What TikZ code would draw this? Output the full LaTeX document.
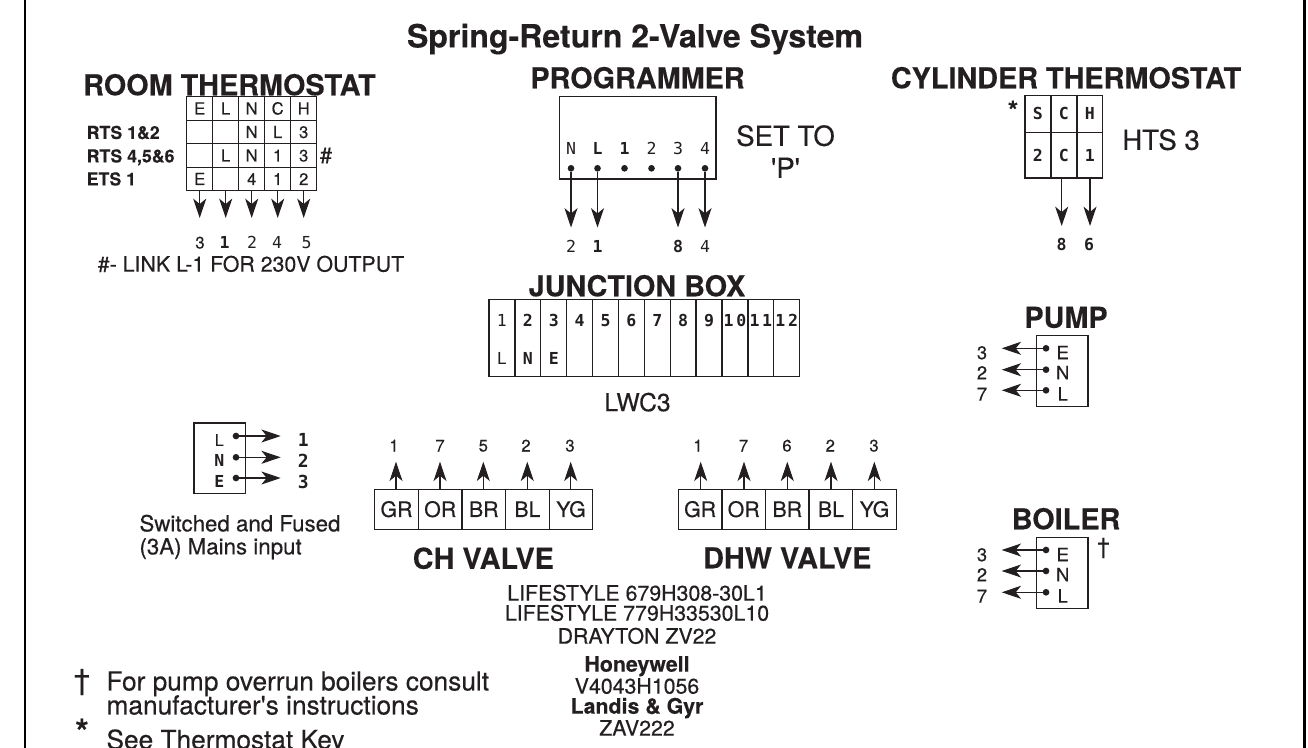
\documentclass[tikz,border=0pt]{standalone}
\usepackage{fontspec}
\newfontfamily\hv{TeX Gyre Heros}[FakeBold=0.35,BoldFeatures={FakeBold=0.2}]
\newfontfamily\mn{DejaVu Sans Mono}
\usetikzlibrary{arrows.meta}
\definecolor{ink}{HTML}{231F20}
\tikzset{
  base/.style={inner sep=0pt,outer sep=0pt,text=ink,text depth=0pt},
  ttl/.style={base,text height=17.2pt,font=\hv\bfseries\fontsize{24.05}{26}\selectfont},
  hd/.style={base,text height=15.4pt,font=\hv\bfseries\fontsize{21.6}{24}\selectfont},
  big/.style={base,text height=14.7pt,font=\hv\fontsize{20.7}{24}\selectfont},
  mid/.style={base,text height=13pt,font=\hv\fontsize{18.5}{20}\selectfont},
  sw/.style={base,text height=12.6pt,anchor=west,font=\hv\fontsize{16.7}{20}\selectfont},
  cp/.style={base,text height=11.5pt,font=\hv\fontsize{16}{18}\selectfont},
  cpb/.style={base,text height=11.5pt,font=\hv\bfseries\fontsize{16}{18}\selectfont},
  rts/.style={base,text height=9.6pt,anchor=west,font=\hv\bfseries\fontsize{13.3}{15}\selectfont},
  lab/.style={base,text height=9pt,font=\hv\fontsize{12.5}{14}\selectfont},
  labb/.style={base,text height=9.8pt,font=\hv\fontsize{13.8}{15}\selectfont},
  mono/.style={base,text height=9pt,font=\mn\fontsize{12.4}{14}\selectfont},
  monob/.style={base,text height=9pt,font=\mn\bfseries\fontsize{12.4}{14}\selectfont},
  foot/.style={base,text height=14.2pt,anchor=west,font=\hv\fontsize{19.7}{22}\selectfont},
  sym/.style={inner sep=0pt,outer sep=0pt,text=ink,anchor=base,font=\hv\bfseries\fontsize{#1}{#1}\selectfont},
  cell/.style={draw=ink,line width=1pt,inner sep=0pt,outer sep=0pt,text=ink,text height=9pt,text depth=0pt},
  tcell/.style={cell,minimum width=19.5pt,minimum height=17.6pt,font=\hv\fontsize{12.5}{14}\selectfont},
  ccell/.style={cell,minimum width=19.5pt,font=\mn\bfseries\fontsize{12.4}{14}\selectfont},
  jcell/.style={cell,minimum width=19.42pt,minimum height=58pt},
  vcell/.style={cell,minimum width=32.7pt,minimum height=30pt,text height=11.5pt,font=\hv\fontsize{16}{17}\selectfont},
  bx/.style={draw=ink,line width=1pt,inner sep=0pt,outer sep=0pt},
  dot/.style={circle,fill=ink,minimum size=5pt,inner sep=0pt,outer sep=0pt},
  wire/.style={draw=ink,line width=0.8pt,-{Stealth[length=14.5pt,width=9.75pt,inset=4pt]}},
  frame/.style={draw=black,line width=1.7pt}
}
\begin{document}
\begin{tikzpicture}[x=0.75pt,y=-0.75pt]
\clip (0,0) rectangle (1308,748);
\fill[white] (0,0) rectangle (1308,748);
% frame
\coordinate (fl1) at (24.8,0); \coordinate (fl2) at (24.8,748);
\coordinate (fr1) at (1304.4,0); \coordinate (fr2) at (1304.4,748);
\draw[frame] (fl1) -- (fl2);
\draw[frame] (fr1) -- (fr2);
\node[ttl] (title) at (635,36) {Spring-Return 2-Valve System};

% ---- room thermostat
\node[hd] (rthead) at (229.5,85) {ROOM THERMOSTAT};
\foreach \c/\cx in {1/199.7,2/225.7,3/251.7,4/277.7,5/303.7}{
  \foreach \r/\ry in {1/108.5,2/132,3/155.5,4/179}{
    \node[tcell] (rt\r\c) at (\cx,\ry) {};
  }
}
\node[lab] at (rt11) {E}; \node[lab] at (rt12) {L}; \node[lab] at (rt13) {N}; \node[lab] at (rt14) {C}; \node[lab] at (rt15) {H};
\node[lab] at (rt23) {N}; \node[lab] at (rt24) {L}; \node[lab] at (rt25) {3};
\node[lab] at (rt32) {L}; \node[lab] at (rt33) {N}; \node[lab] at (rt34) {1}; \node[lab] at (rt35) {3};
\node[lab] at (rt41) {E}; \node[lab] at (rt43) {4}; \node[lab] at (rt44) {1}; \node[lab] at (rt45) {2};
\node[rts] (rts12) at (86.7,132.5) {RTS 1\&2};
\node[rts] (rts456) at (86.7,156) {RTS 4,5\&6};
\node[rts] (ets1) at (86.7,179) {ETS 1};
\node[lab] (hash) at (326,157) {\fontsize{16.5}{16}\selectfont\#};
\foreach \c/\cx/\nx/\st/\t in {1/199.7/200/lab/3,2/225.7/224.5/monob/1,3/251.7/252/mono/2,4/277.7/277/mono/4,5/303.7/306.5/mono/5}{
  \coordinate (rtt\c) at (\cx,218);
  \node[\st] (rtn\c) at (\nx,242.5) {\t};
  \draw[wire] (rt4\c.south) -- (rtt\c);
}
\node[cp] (link) at (251,264) {\#- LINK L-1 FOR 230V OUTPUT};

% ---- programmer
\node[hd] (proghead) at (637.5,78) {PROGRAMMER};
\node[bx,minimum width=117.5pt,minimum height=61.7pt] (prog) at (637.6,137.8) {};
\foreach \i/\x/\st/\t in {1/571/mono/N,2/597.5/monob/L,3/624.5/monob/1,4/651.5/mono/2,5/678/mono/3,6/705/mono/4}{
  \node[\st] (pl\i) at (\x,149) {\t};
  \node[dot] (pd\i) at (\x,168.3) {};
}
\foreach \i/\x/\st/\t in {1/571/mono/2,2/597.5/monob/1,5/678/monob/8,6/705/mono/4}{
  \coordinate (pt\i) at (\x,227.5);
  \node[\st] (pn\i) at (\x,246.5) {\t};
  \draw[wire] (pd\i) -- (pt\i);
}
\node[big] (setto) at (785.5,136) {SET TO};
\node[big] (setp) at (785.5,168) {'P'};

% ---- cylinder thermostat
\node[hd] (cyhead) at (1066,78) {CYLINDER THERMOSTAT};
\foreach \c/\cx/\a/\b in {1/1037.9/S/2,2/1063.9/C/C,3/1089.8/H/1}{
  \node[ccell,minimum height=27.7pt] (cy1\c) at (\cx,113.8) {\a};
  \node[ccell,minimum height=34.3pt] (cy2\c) at (\cx,155.2) {\b};
}
\coordinate (cya) at (1061.7,178); \coordinate (cyb) at (1090,178);
\coordinate (cyta) at (1061.7,226); \coordinate (cytb) at (1090,226);
\draw[wire] (cya) -- (cyta);
\draw[wire] (cyb) -- (cytb);
\node[monob] (cyn1) at (1061.5,245) {8};
\node[monob] (cyn2) at (1089,245) {6};
\node[sym=20] (cystar) at (1013,120) {*};
\node[big] (hts) at (1161,140) {HTS 3};

% ---- junction box
\node[hd] (jbhead) at (637,286) {JUNCTION BOX};
\foreach \i/\st/\t in {1/mono/1,2/monob/2,3/monob/3,4/monob/4,5/monob/5,6/monob/6,7/monob/7,8/monob/8,9/monob/9,10/monob/1\kern2pt 0,11/monob/1\kern2pt 1,12/monob/1\kern2pt 2}{
  \node[jcell] (jb\i) at ({489+25.89*(\i-0.5)},338) {};
  \node[\st] (jbt\i) at ({489+25.89*(\i-0.5)},320.7) {\t};
}
\node[mono] (jbl) at (jb1|-0,358) {L};
\node[monob] (jbm) at (jb2|-0,358) {N};
\node[monob] (jbe) at (jb3|-0,358) {E};
\node[mid] (lwc) at (637.5,402.5) {LWC3};

% ---- mains
\node[bx,minimum width=38.8pt,minimum height=53pt] (mains) at (219.8,458.3) {};
\foreach \i/\dy/\ly/\t/\st in {1/436/440/L/mono,2/457.3/460.5/N/monob,3/478/481.5/E/monob}{
  \node[dot] (md\i) at (236,\dy) {};
  \coordinate (mt\i) at (280.7,\dy);
  \node[\st] (ml\i) at (219.3,\ly) {\t};
  \node[base,text height=9.8pt,font=\mn\bfseries\fontsize{13.5}{14}\selectfont] (mn\i) at (303.3,\ly) {\i};
  \draw[wire] (md\i) -- (mt\i);
}
\node[sw] (swa) at (139.5,523) {Switched and Fused};
\node[sw] (swb) at (139.5,546) {(3A) Mains input};

% ---- valves
\foreach \c/\cx/\ax/\nx/\n/\t in {1/396.5/396/394/1/GR,2/440.2/440/440/7/OR,3/483.8/483.3/483.3/5/BR,4/527.4/527.3/526/2/BL,5/571/570.7/570/3/YG}{
  \node[vcell] (ch\c) at (\cx,509.3) {\t};
  \coordinate (cht\c) at (\ax,461.7);
  \coordinate (chb\c) at (\ax,489.3);
  \node[lab] (chn\c) at (\nx,445.5) {\n};
  \draw[wire] (chb\c) -- (cht\c);
}
\node[hd] (chhead) at (483.3,558.5) {CH VALVE};
\foreach \c/\cx/\ax/\nx/\n/\t in {1/700.1/700.7/698/1/GR,2/743.7/744/743.5/7/OR,3/787.3/787.3/787/6/BR,4/830.9/831/830.3/2/BL,5/874.5/874.3/874/3/YG}{
  \node[vcell] (dh\c) at (\cx,509.3) {\t};
  \coordinate (dht\c) at (\ax,461.7);
  \coordinate (dhb\c) at (\ax,489.3);
  \node[lab] (dhn\c) at (\nx,445.5) {\n};
  \draw[wire] (dhb\c) -- (dht\c);
}
\node[hd] (dhhead) at (787.3,558) {DHW VALVE};

% ---- pump / boiler
\node[hd] (pumphead) at (1066,317.5) {PUMP};
\node[bx,minimum width=38.8pt,minimum height=53.2pt] (pump) at (1062.2,370.8) {};
\foreach \i/\dy/\ly/\t/\n in {1/348.3/352.7/E/3,2/369.7/372.7/N/2,3/390.3/394/L/7}{
  \node[dot] (pud\i) at (1046,\dy) {};
  \coordinate (put\i) at (1001.7,\dy);
  \node[labb] (pul\i) at (1062.7,\ly) {\t};
  \node[labb] (pun\i) at (982,\ly) {\n};
  \draw[wire] (pud\i) -- (put\i);
}
\node[hd] (boilhead) at (1066,519) {BOILER};
\node[bx,minimum width=38.8pt,minimum height=53.2pt] (boil) at (1062.2,572.8) {};
\foreach \i/\dy/\ly/\t/\n in {1/550/554.7/E/3,2/571/574.7/N/2,3/592.3/596/L/7}{
  \node[dot] (bod\i) at (1046,\dy) {};
  \coordinate (bot\i) at (1001.7,\dy);
  \node[labb] (bol\i) at (1062.7,\ly) {\t};
  \node[labb] (bon\i) at (982,\ly) {\n};
  \draw[wire] (bod\i) -- (bot\i);
}
\node[inner sep=0pt,text=ink,font=\hv\fontsize{17}{17}\selectfont] (bodag) at (1103.5,548) {†};

% ---- valve models
\node[cp] (m1) at (637,593) {LIFESTYLE 679H308-30L1};
\node[cp] (m2) at (637,613) {LIFESTYLE 779H33530L10};
\node[cp] (m3) at (637,636) {DRAYTON ZV22};
\node[cpb] (m4) at (637,664) {Honeywell};
\node[cp] (m5) at (637,686) {V4043H1056};
\node[cpb] (m6) at (637,706) {Landis \& Gyr};
\node[cp] (m7) at (637,728) {ZAV222};

% ---- footnotes
\node[inner sep=0pt,text=ink,font=\hv\fontsize{22}{22}\selectfont] (fdag) at (82,682) {†};
\node[foot] (f1) at (106.5,681) {For pump overrun boilers consult};
\node[foot] (f2) at (106.5,705) {manufacturer's instructions};
\node[sym=26] (fstar) at (82,744) {*};
\node[foot] (f3) at (106.5,739.5) {See Thermostat Key};
\end{tikzpicture}
\end{document}
